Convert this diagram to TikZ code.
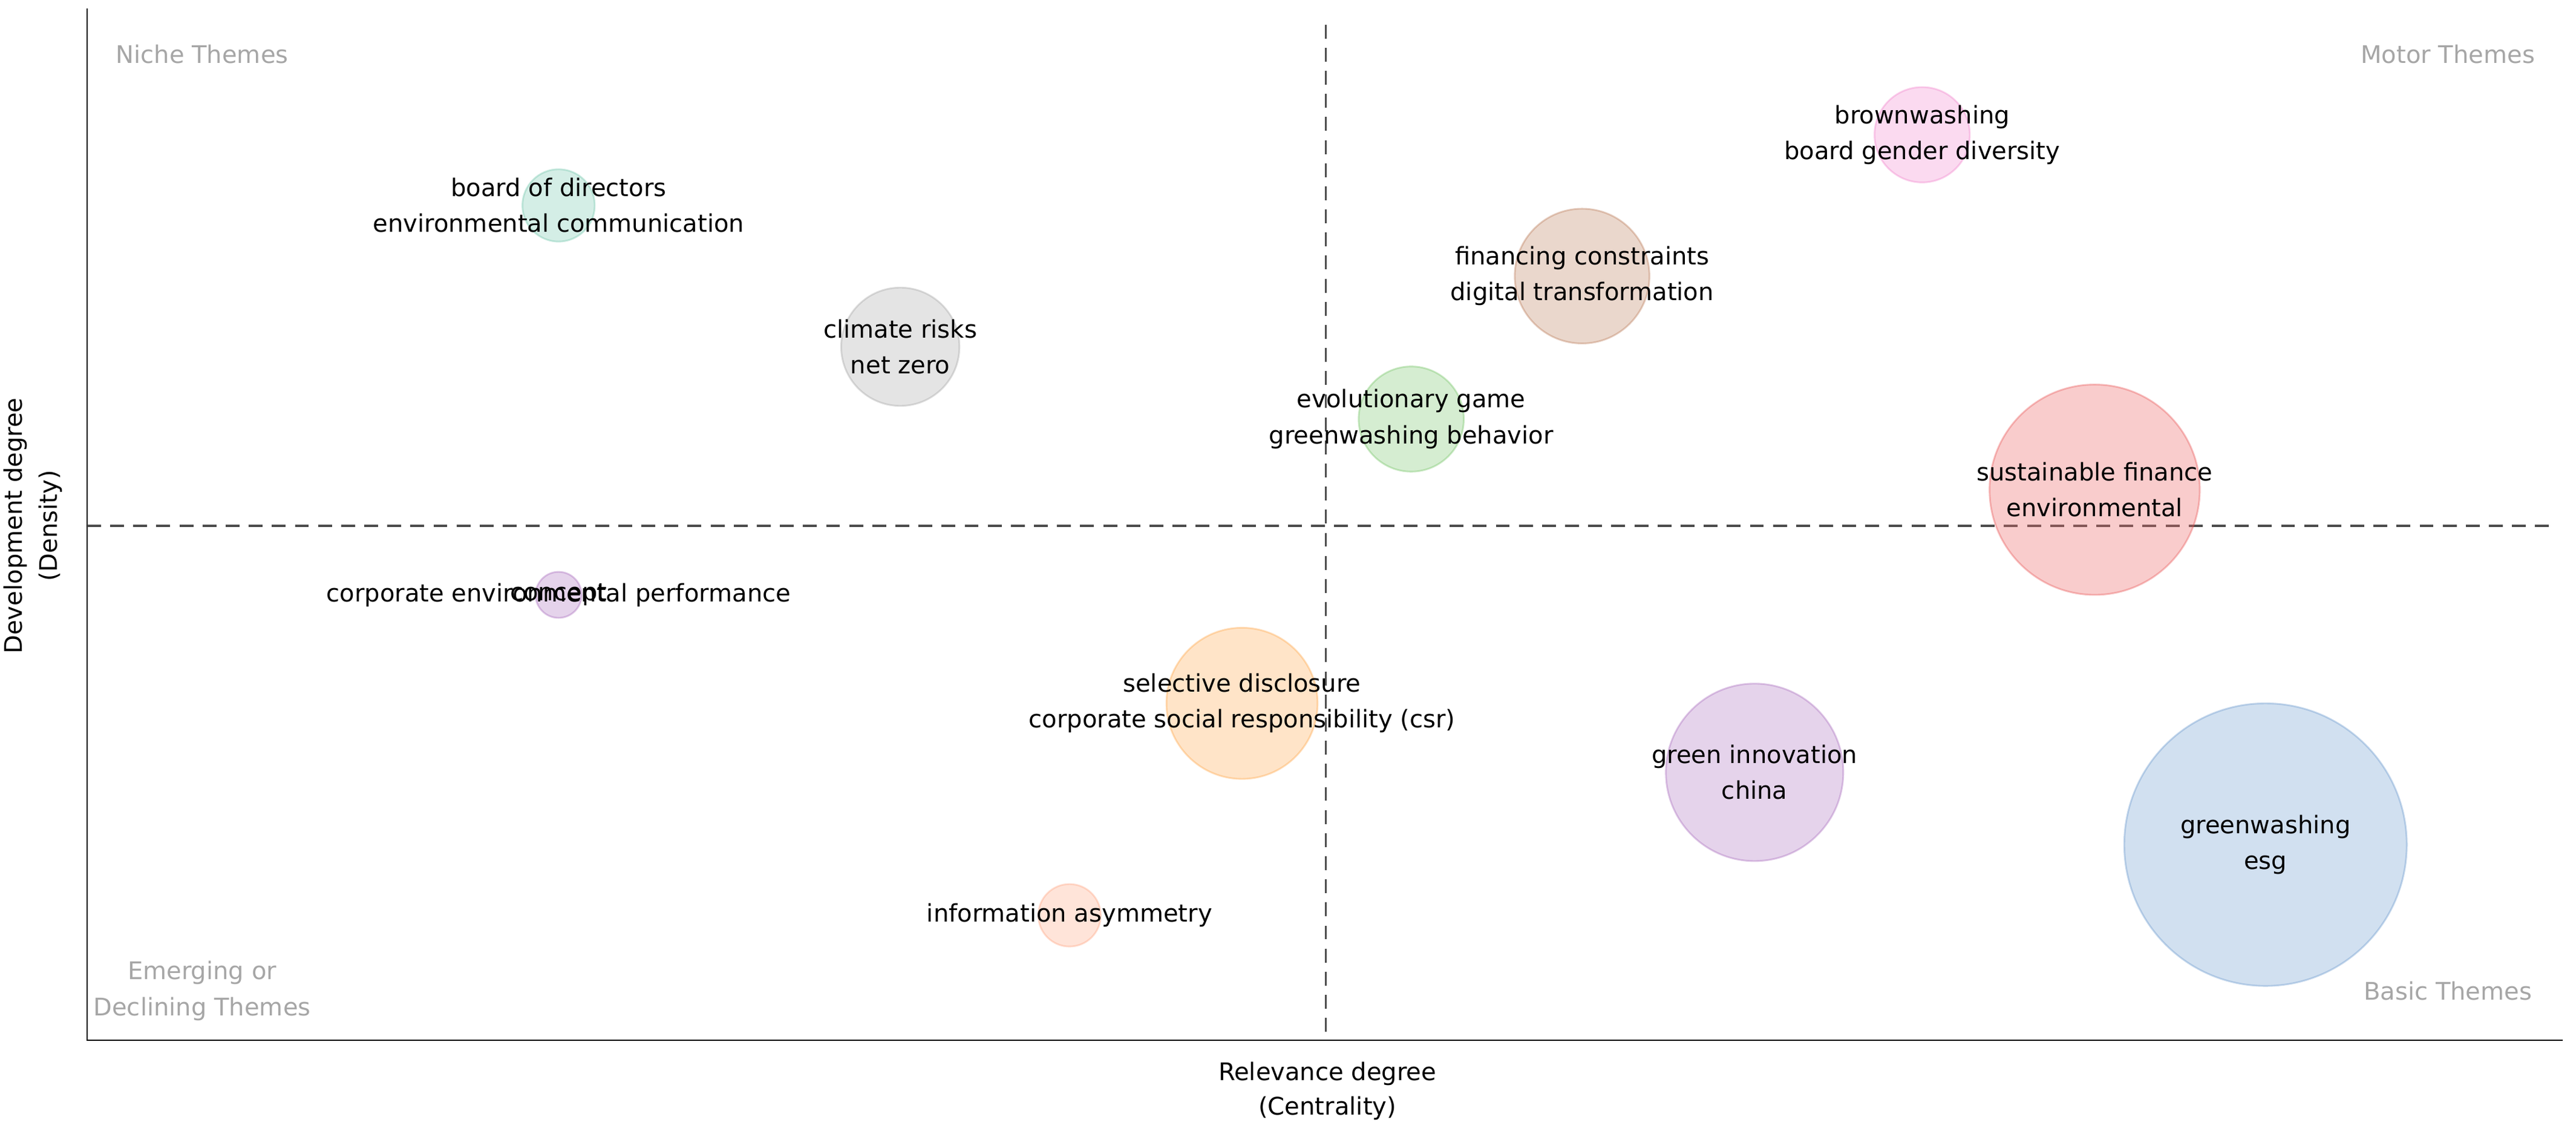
\documentclass[tikz,border=0pt]{standalone}
\usepackage{fontspec}
\setmainfont{DejaVu Sans}
\definecolor{cteal}{HTML}{66C2A5}
\definecolor{cgray}{HTML}{9E9E9E}
\definecolor{cgreen}{HTML}{6ABF5A}
\definecolor{cbrown}{HTML}{B5704A}
\definecolor{cpink}{HTML}{F07AC8}
\definecolor{cred}{HTML}{E84A4A}
\definecolor{cpurple}{HTML}{A262B8}
\definecolor{corange}{HTML}{FF9F3A}
\definecolor{cblue}{HTML}{5B8FC8}
\definecolor{csalmon}{HTML}{FF9E78}
\begin{document}
\begin{tikzpicture}[x=0.05cm, y=-0.05cm,
        bubble/.style={circle, draw=#1, fill=#1!80, line width=1.5pt, opacity=0.35, inner sep=0pt},
        term/.style={align=center, font=\fontsize{21}{31}\selectfont, text=black},
        corner/.style={align=center, font=\fontsize{21}{31}\selectfont, text=gray!70},
        axislbl/.style={align=center, font=\fontsize{21}{30}\selectfont},
        guide/.style={dash pattern=on 12pt off 8pt, line width=2pt, black!70}
    ]
        \useasboundingbox (0,0) rectangle (1568,690);

        % Achsen
        \coordinate (o) at (53,633);
        \coordinate (top) at (53,5);
        \coordinate (right) at (1560,633);
        \draw[line width=1.2pt] (top) -- (o) -- (right);

        % Quadrantengrenzen
        \coordinate (vt) at (807,15);
        \coordinate (vb) at (807,633);
        \coordinate (hl) at (53,320);
        \coordinate (hr) at (1553,320);
        \draw[guide] (vt) -- (vb);
        \draw[guide] (hl) -- (hr);

        % Blasen
        \node[bubble=cteal, minimum size=2.2cm] (c1) at (340,125) {};
        \node[bubble=cgray, minimum size=3.6cm] (c2) at (548,211) {};
        \node[bubble=cgreen, minimum size=3.2cm] (c3) at (859,255) {};
        \node[bubble=cbrown, minimum size=4.1cm] (c4) at (963,168) {};
        \node[bubble=cpink, minimum size=2.9cm] (c5) at (1170,82) {};
        \node[bubble=cred, minimum size=6.4cm] (c6) at (1275,298) {};
        \node[bubble=cpurple, minimum size=1.4cm] (c7) at (340,362) {};
        \node[bubble=corange, minimum size=4.6cm] (c8) at (756,428) {};
        \node[bubble=cpurple, minimum size=5.4cm] (c9) at (1068,470) {};
        \node[bubble=cblue, minimum size=8.6cm] (c10) at (1379,514) {};
        \node[bubble=csalmon, minimum size=1.9cm] (c11) at (651,557) {};

        % Begriffe
        \node[term] (t1) at (c1) {board of directors\\environmental communication};
        \node[term] (t2) at (c2) {climate risks\\net zero};
        \node[term] (t3) at (c3) {evolutionary game\\greenwashing behavior};
        \node[term] (t4) at (c4) {financing constraints\\digital transformation};
        \node[term] (t5) at (c5) {brownwashing\\board gender diversity};
        \node[term] (t6) at (c6) {sustainable finance\\environmental};
        \node[term] (t7a) at (c7) {corporate environmental performance};
        \node[term] (t7b) at (c7) {concept};
        \node[term] (t8) at (c8) {selective disclosure\\corporate social responsibility (csr)};
        \node[term] (t9) at (c9) {green innovation\\china};
        \node[term] (t10) at (c10) {greenwashing\\esg};
        \node[term] (t11) at (c11) {information asymmetry};

        % Quadranten
        \node[corner] (niche) at (123,33) {Niche Themes};
        \node[corner] (motor) at (1490,33) {Motor Themes};
        \node[corner] (emerging) at (123,603) {Emerging or\\Declining Themes};
        \node[corner] (basic) at (1490,603) {Basic Themes};

        % Achsenbeschriftung
        \node[axislbl] (xlbl) at (808,664) {Relevance degree\\(Centrality)};
        \node[axislbl, rotate=90] (ylbl) at (20,320) {Development degree\\(Density)};
    \end{tikzpicture}
\end{document}
